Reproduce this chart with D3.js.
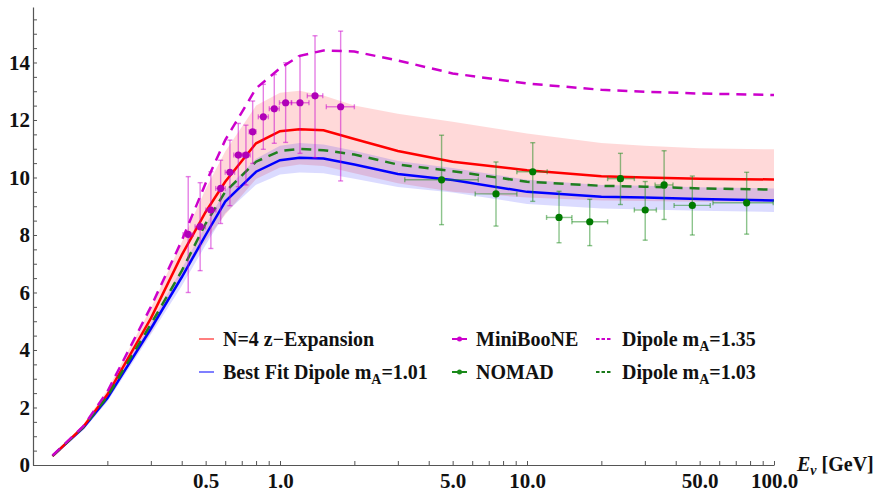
<!DOCTYPE html>
<html>
<head>
<meta charset="utf-8">
<script src="https://cdn.jsdelivr.net/npm/d3@7"></script>
<style>
  body { margin: 0; background: #fff; }
  svg { display: block; font-family: "Liberation Serif", "Times New Roman", serif; font-weight: bold; }
  .axis path, .axis line { stroke: #555; }
  .axis text { fill: #111; font-family: "Liberation Serif", serif; font-weight: bold; font-size: 21px; }
</style>
</head>
<body>
<div id="chart"></div>
<script>
// energies (GeV) where the curves were sampled
const energies = [0.12, 0.16, 0.2, 0.3, 0.4, 0.5, 0.6, 0.8, 1.0, 1.2, 1.5, 2, 3, 5, 10, 20, 30, 50, 100];

// N=4 z-expansion, central + band
const zExp      = [0.31, 1.33, 2.45, 5.1, 7.3, 8.8, 9.85, 11.19, 11.61, 11.68, 11.64, 11.34, 10.92, 10.55, 10.25, 10.04, 10.0, 9.96, 9.93];
const zExpUpper = [0.36, 1.42, 2.62, 5.45, 7.75, 9.6, 10.9, 12.5, 12.95, 13.02, 12.85, 12.5, 12.22, 11.94, 11.53, 11.2, 11.1, 11.02, 10.98];
const zExpLower = [0.27, 1.25, 2.3, 4.6, 6.5, 7.8, 8.7, 9.95, 10.35, 10.45, 10.4, 10.15, 9.8, 9.5, 9.3, 9.2, 9.18, 9.16, 9.15];

// best fit dipole mA=1.01, central + band
const dipoleFit      = [0.32, 1.3, 2.32, 4.74, 6.53, 8.0, 9.16, 10.2, 10.6, 10.69, 10.66, 10.45, 10.12, 9.91, 9.5, 9.33, 9.3, 9.25, 9.2];
const dipoleFitUpper = [0.37, 1.38, 2.44, 4.94, 6.83, 8.35, 9.56, 10.65, 11.1, 11.2, 11.15, 10.93, 10.57, 10.33, 9.92, 9.74, 9.71, 9.66, 9.62];
const dipoleFitLower = [0.27, 1.22, 2.2, 4.54, 6.23, 7.65, 8.76, 9.75, 10.1, 10.17, 10.15, 9.96, 9.67, 9.48, 9.08, 8.92, 8.89, 8.84, 8.8];

// dipole curves
const dipole135 = [0.33, 1.35, 2.55, 5.5, 7.8, 9.8, 11.3, 13.1, 13.8, 14.23, 14.42, 14.38, 14.07, 13.62, 13.27, 13.05, 12.98, 12.92, 12.87];
const dipole103 = [0.32, 1.32, 2.38, 4.9, 6.75, 8.4, 9.5, 10.55, 10.92, 10.99, 10.95, 10.8, 10.45, 10.22, 9.85, 9.71, 9.68, 9.62, 9.58];

// MiniBooNE points
const mbE    = [0.425, 0.475, 0.525, 0.575, 0.627, 0.678, 0.728, 0.775, 0.856, 0.948, 1.054, 1.205, 1.386, 1.76];
const mbELo  = [0.405, 0.453, 0.501, 0.549, 0.600, 0.650, 0.700, 0.750, 0.817, 0.905, 0.995, 1.11, 1.29, 1.54];
const mbEHi  = [0.445, 0.498, 0.550, 0.600, 0.655, 0.706, 0.757, 0.800, 0.897, 0.993, 1.115, 1.31, 1.49, 2.0];
const mbXS   = [8.02, 8.29, 8.87, 9.62, 10.18, 10.78, 10.78, 11.59, 12.11, 12.39, 12.6, 12.6, 12.84, 12.46];
const mbXSLo = [6.0, 6.76, 7.53, 8.4, 9.02, 9.68, 9.74, 10.49, 10.98, 11.19, 11.22, 10.84, 10.69, 9.88];
const mbXSHi = [10.03, 9.82, 10.2, 10.6, 11.3, 11.88, 11.82, 12.66, 13.24, 13.58, 13.99, 14.23, 14.93, 15.09];

// NOMAD points
const nomadE    = [4.51, 7.49, 10.55, 13.48, 17.95, 23.9, 30.1, 35.9, 46.7, 77.5];
const nomadELo  = [3.2, 6.17, 9.1, 12.0, 15.2, 21.2, 27.2, 33.0, 39.4, 56.6];
const nomadEHi  = [6.35, 9.1, 12.07, 15.2, 21.2, 27.2, 33.4, 39.0, 55.2, 99.3];
const nomadXS   = [9.92, 9.43, 10.2, 8.61, 8.46, 9.96, 8.87, 9.74, 9.03, 9.12];
const nomadXSLo = [8.36, 8.31, 9.17, 7.73, 7.63, 9.06, 7.82, 8.54, 8.0, 8.03];
const nomadXSHi = [11.47, 10.54, 11.21, 9.52, 9.24, 10.84, 9.86, 10.93, 10.05, 10.18];

const xTickLabels = [0.5, 1, 5, 10, 50, 100];
const yTickLabels = [0, 2, 4, 6, 8, 10, 12, 14];

const W = 886, H = 493;
const svg = d3.select('#chart').append('svg').attr('width', W).attr('height', H);

const x = d3.scaleLog().domain([0.1, 100]).range([33, 774]);
const y = d3.scaleLinear().domain([0, 15.93]).range([465, 7]);

// bands
const band = (lo, hi) => d3.area()
  .x((d, i) => x(energies[i]))
  .y0((d, i) => y(lo[i]))
  .y1((d, i) => y(hi[i]));

svg.append('path').attr('d', band(zExpLower, zExpUpper)(energies))
  .attr('fill', '#ff0000').attr('fill-opacity', 0.15);
svg.append('path').attr('d', band(dipoleFitLower, dipoleFitUpper)(energies))
  .attr('fill', '#0000ff').attr('fill-opacity', 0.14);

// curves
const line = vals => d3.line().x((d, i) => x(energies[i])).y((d, i) => y(vals[i]))(energies);

svg.append('path').attr('d', line(dipoleFit)).attr('fill', 'none').attr('stroke', '#0000ff').attr('stroke-width', 2.5);
svg.append('path').attr('d', line(zExp)).attr('fill', 'none').attr('stroke', '#ff0000').attr('stroke-width', 2.5);
svg.append('path').attr('d', line(dipole103)).attr('fill', 'none').attr('stroke', '#1f7f1f').attr('stroke-width', 2.5).attr('stroke-dasharray', '10,7');
svg.append('path').attr('d', line(dipole135)).attr('fill', 'none').attr('stroke', '#cc00cc').attr('stroke-width', 2.5).attr('stroke-dasharray', '10,7');

// error bars + points
function drawData(E, ELo, EHi, v, vLo, vHi, col, barCol) {
  const g = svg.append('g');
  const cap = 2.5;
  E.forEach((e, i) => {
    const cx = x(e), cy = y(v[i]);
    const segs = [
      [cx, y(vLo[i]), cx, y(vHi[i])],
      [cx - cap, y(vLo[i]), cx + cap, y(vLo[i])],
      [cx - cap, y(vHi[i]), cx + cap, y(vHi[i])],
      [x(ELo[i]), cy, x(EHi[i]), cy],
      [x(ELo[i]), cy - cap, x(ELo[i]), cy + cap],
      [x(EHi[i]), cy - cap, x(EHi[i]), cy + cap]
    ];
    segs.forEach(s => g.append('line')
      .attr('x1', s[0]).attr('y1', s[1]).attr('x2', s[2]).attr('y2', s[3])
      .attr('stroke', barCol).attr('stroke-width', 1.4).attr('stroke-opacity', 0.5));
  });
  g.selectAll('circle').data(E).join('circle')
    .attr('cx', d => x(d)).attr('cy', (d, i) => y(v[i])).attr('r', 3.6).attr('fill', col);
}
drawData(mbE, mbELo, mbEHi, mbXS, mbXSLo, mbXSHi, '#b000b8', '#cc00cc');
drawData(nomadE, nomadELo, nomadEHi, nomadXS, nomadXSLo, nomadXSHi, '#007a00', '#1a8a1a');

// axes
const xTicks = x.ticks().filter(t => t > 0.1001);
const xAxis = d3.axisBottom(x).tickValues(xTicks).tickSizeInner(-4).tickSizeOuter(0).tickPadding(8)
  .tickFormat(d => xTickLabels.some(l => Math.abs(l - d) < 1e-9) ? d3.format('.1f')(d) : '');
svg.append('g').attr('class', 'axis').attr('transform', 'translate(0,465)').call(xAxis);

const yTicks = d3.range(0, 16, 0.5);
const yAxis = d3.axisLeft(y).tickValues(yTicks).tickSizeInner(-4).tickSizeOuter(0).tickPadding(3)
  .tickFormat(d => yTickLabels.includes(d) ? d : '');
svg.append('g').attr('class', 'axis').attr('transform', 'translate(33,0)').call(yAxis);
svg.selectAll('.axis .domain').attr('stroke', '#555').attr('stroke-width', 1.2);

// x axis title
const xt = svg.append('text').attr('x', 797).attr('y', 471).attr('font-size', 20).attr('fill', '#111');
xt.append('tspan').attr('font-style', 'italic').text('E');
xt.append('tspan').attr('font-style', 'italic').attr('font-size', 14).attr('dy', 4).text('ν');
xt.append('tspan').attr('dy', -4).text(' [GeV]');

// legend
const legend = [
  { label: ['N=4 z\u2212Expansion'], col: '#ff7f7f', dash: null, dot: false, lx: 199, ly: 339 },
  { label: ['Best Fit Dipole m', 'A', '=1.01'], col: '#7f7fff', dash: null, dot: false, lx: 199, ly: 372 },
  { label: ['MiniBooNE'], col: '#cc00cc', dash: null, dot: true, lx: 452, ly: 339 },
  { label: ['NOMAD'], col: '#1a8a1a', dash: null, dot: true, lx: 452, ly: 372 },
  { label: ['Dipole m', 'A', '=1.35'], col: '#cc00cc', dash: '3.5,2', dot: false, lx: 596, ly: 339 },
  { label: ['Dipole m', 'A', '=1.03'], col: '#1a7a1a', dash: '3.5,2', dot: false, lx: 596, ly: 372 }
];
legend.forEach(d => {
  const g = svg.append('g').attr('transform', `translate(${d.lx},${d.ly})`);
  g.append('line').attr('x1', 0).attr('x2', 15).attr('y1', 0).attr('y2', 0)
    .attr('stroke', d.col).attr('stroke-width', 2)
    .attr('stroke-dasharray', d.dash);
  if (d.dot) g.append('circle').attr('cx', 7.5).attr('cy', 0).attr('r', 2.5).attr('fill', d.col);
  const t = g.append('text').attr('x', d.dash ? 26 : 24).attr('y', 7).attr('font-size', 20).attr('fill', '#111');
  t.append('tspan').text(d.label[0]);
  if (d.label.length > 1) {
    t.append('tspan').attr('font-size', 14).attr('dy', 5).text(d.label[1]);
    t.append('tspan').attr('dy', -5).text(d.label[2]);
  }
});
</script>
</body>
</html>
